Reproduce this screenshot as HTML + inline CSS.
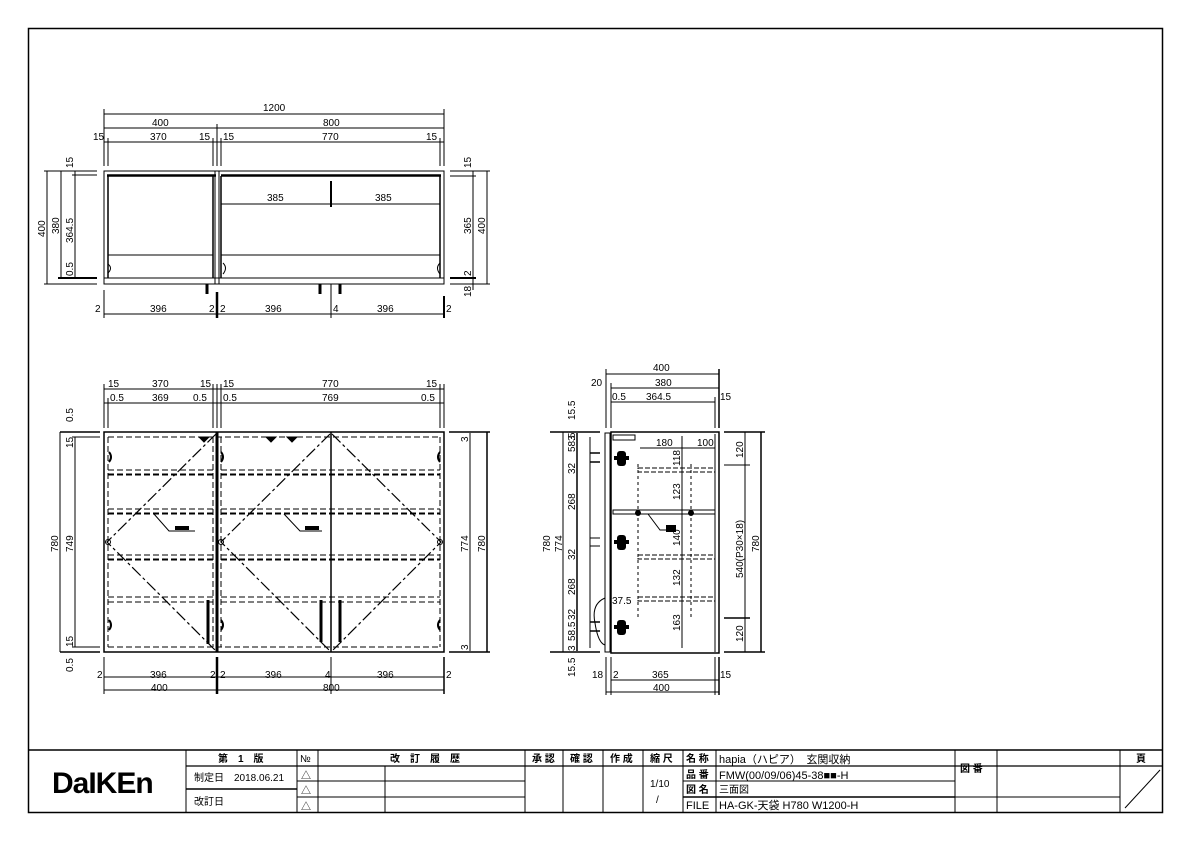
<!DOCTYPE html>
<html><head><meta charset="utf-8"><style>
html,body{margin:0;padding:0;background:#fff}
svg{display:block}
text{font-family:"Liberation Sans","Noto Sans CJK JP",sans-serif;font-size:10px;fill:#000}
.t{font-size:9.5px}
.b{font-weight:bold}
</style></head><body>
<svg width="1191" height="842" viewBox="0 0 1191 842" xmlns="http://www.w3.org/2000/svg">
<g fill="none" stroke="#000" stroke-width="1">
<!-- border -->
<rect x="28.5" y="28.5" width="1134" height="784" stroke-width="1.5"/>

<!-- ================ PLAN VIEW ================ -->
<line x1="104" y1="114" x2="444" y2="114"/>
<line x1="104" y1="128" x2="444" y2="128"/>
<line x1="104" y1="142" x2="444" y2="142"/>
<line x1="104" y1="109" x2="104" y2="166"/>
<line x1="444" y1="109" x2="444" y2="166"/>
<line x1="217" y1="124" x2="217" y2="166"/>
<line x1="108" y1="138" x2="108" y2="166"/>
<line x1="213" y1="138" x2="213" y2="166"/>
<line x1="221" y1="138" x2="221" y2="166"/>
<line x1="440" y1="138" x2="440" y2="166"/>
<rect x="104" y="171" width="340" height="113"/>
<line x1="104" y1="278" x2="444" y2="278"/>
<line x1="107" y1="175.5" x2="216" y2="175.5" stroke-width="2.5"/>
<line x1="221" y1="175.5" x2="441" y2="175.5" stroke-width="2.5"/>
<line x1="108" y1="176" x2="108" y2="278" stroke-width="1.5"/>
<line x1="213" y1="176" x2="213" y2="278" stroke-width="1.5"/>
<line x1="221" y1="176" x2="221" y2="278" stroke-width="1.5"/>
<line x1="440" y1="176" x2="440" y2="278" stroke-width="1.5"/>
<line x1="215" y1="171" x2="215" y2="284"/>
<line x1="219" y1="171" x2="219" y2="284"/>
<line x1="108" y1="255" x2="213" y2="255"/>
<line x1="221" y1="255" x2="440" y2="255"/>
<line x1="221" y1="204" x2="440" y2="204"/>
<line x1="331" y1="181" x2="331" y2="207" stroke-width="2"/>
<path d="M108 264 q5 4 0 9 M223 263 q5 5 0 11 M440 263 q-5 5 0 11"/>
<line x1="207" y1="284" x2="207" y2="294" stroke-width="3"/>
<line x1="320" y1="284" x2="320" y2="294" stroke-width="3"/>
<line x1="340" y1="284" x2="340" y2="294" stroke-width="3"/>
<line x1="217" y1="292" x2="217" y2="318" stroke-width="2.5"/>
<line x1="444" y1="296" x2="444" y2="318" stroke-width="2"/>
<line x1="104" y1="290" x2="104" y2="318"/>
<line x1="331" y1="284" x2="331" y2="318"/>
<line x1="104" y1="314" x2="444" y2="314"/>
<!-- left dims plan -->
<line x1="47" y1="171" x2="47" y2="284"/>
<line x1="61" y1="171" x2="61" y2="278"/>
<line x1="75" y1="171" x2="75" y2="278"/>
<line x1="44" y1="171" x2="97" y2="171"/>
<line x1="44" y1="284" x2="97" y2="284"/>
<line x1="58" y1="278" x2="97" y2="278" stroke-width="2"/>
<line x1="72" y1="175" x2="97" y2="175"/>
<!-- right dims plan -->
<line x1="473" y1="171" x2="473" y2="290"/>
<line x1="487" y1="171" x2="487" y2="284"/>
<line x1="450" y1="171" x2="490" y2="171"/>
<line x1="450" y1="176" x2="476" y2="176"/>
<line x1="450" y1="278" x2="476" y2="278" stroke-width="2"/>
<line x1="450" y1="284" x2="490" y2="284"/>

<!-- ================ FRONT VIEW ================ -->
<line x1="104" y1="389" x2="444" y2="389"/>
<line x1="104" y1="403" x2="444" y2="403"/>
<line x1="104" y1="384" x2="104" y2="428"/>
<line x1="108" y1="398" x2="108" y2="428"/>
<line x1="213" y1="384" x2="213" y2="428"/>
<line x1="217" y1="384" x2="217" y2="428"/>
<line x1="221" y1="384" x2="221" y2="428"/>
<line x1="440" y1="384" x2="440" y2="428"/>
<line x1="444" y1="384" x2="444" y2="428"/>
<rect x="104" y="432" width="340" height="220" stroke-width="1.5"/>
<line x1="60" y1="432" x2="100" y2="432" stroke-width="1.5"/>
<line x1="60" y1="652" x2="100" y2="652" stroke-width="1.5"/>
<line x1="72" y1="437" x2="100" y2="437"/>
<line x1="72" y1="647" x2="100" y2="647"/>
<line x1="60" y1="432" x2="60" y2="652"/>
<line x1="75" y1="437" x2="75" y2="647"/>
<line x1="449" y1="432" x2="490" y2="432" stroke-width="1.5"/>
<line x1="449" y1="652" x2="490" y2="652" stroke-width="1.5"/>
<line x1="470" y1="433" x2="470" y2="651"/>
<line x1="487" y1="432" x2="487" y2="652" stroke-width="1.5"/>
<line x1="217" y1="432" x2="217" y2="652" stroke-width="3"/>
<line x1="331" y1="432" x2="331" y2="652" stroke-width="1.5"/>
<g stroke-dasharray="6,3">
<line x1="108" y1="437" x2="440" y2="437"/>
<line x1="108" y1="647" x2="440" y2="647"/>
<line x1="108" y1="437" x2="108" y2="647"/>
<line x1="213" y1="437" x2="213" y2="647"/>
<line x1="221" y1="437" x2="221" y2="647"/>
<line x1="440" y1="437" x2="440" y2="647"/>
<line x1="108" y1="470" x2="213" y2="470"/><line x1="221" y1="470" x2="440" y2="470"/>
<line x1="108" y1="474.5" x2="213" y2="474.5" stroke-width="2"/><line x1="221" y1="474.5" x2="440" y2="474.5" stroke-width="2"/>
<line x1="108" y1="509" x2="213" y2="509"/><line x1="221" y1="509" x2="440" y2="509"/>
<line x1="108" y1="513.5" x2="213" y2="513.5" stroke-width="2"/><line x1="221" y1="513.5" x2="440" y2="513.5" stroke-width="2"/>
<line x1="108" y1="555" x2="213" y2="555"/><line x1="221" y1="555" x2="440" y2="555"/>
<line x1="108" y1="559.5" x2="213" y2="559.5" stroke-width="2"/><line x1="221" y1="559.5" x2="440" y2="559.5" stroke-width="2"/>
<line x1="108" y1="597" x2="213" y2="597"/><line x1="221" y1="597" x2="440" y2="597"/>
<line x1="108" y1="602" x2="213" y2="602"/><line x1="221" y1="602" x2="440" y2="602"/>
</g>
<g stroke-dasharray="12,3,3,3" stroke-width="1.2">
<path d="M216 434 L107 542 L216 651"/>
<path d="M330 434 L221 542 L330 651"/>
<path d="M332 434 L441 542 L332 651"/>
</g>
<path d="M199 437 l10 0 l-5 5z M266 437 l10 0 l-5 5z M287 437 l10 0 l-5 5z" fill="#000"/>
<line x1="208" y1="600" x2="208" y2="644" stroke-width="3"/>
<line x1="321" y1="600" x2="321" y2="642" stroke-width="3"/>
<line x1="340" y1="600" x2="340" y2="642" stroke-width="3"/>
<path d="M109 452 q4 5 0 10 M221 452 q4 5 0 10 M440 452 q-4 5 0 10 M109 620 q4 5 0 10 M221 620 q4 5 0 10 M440 620 q-4 5 0 10" stroke-width="2"/>
<circle cx="108" cy="542" r="2.5"/><circle cx="221" cy="542" r="2.5"/><circle cx="440" cy="542" r="2.5"/>
<path d="M154 514 L169 531 L195 531"/>
<path d="M284 514 L300 531 L322 531"/>
<rect x="175" y="526" width="14" height="4" fill="#000" stroke="none"/>
<rect x="305" y="526" width="14" height="4" fill="#000" stroke="none"/>
<!-- front bottom dims -->
<line x1="104" y1="657" x2="104" y2="694"/>
<line x1="217" y1="657" x2="217" y2="694" stroke-width="2.5"/>
<line x1="331" y1="657" x2="331" y2="694"/>
<line x1="444" y1="657" x2="444" y2="694" stroke-width="1.5"/>
<line x1="104" y1="677" x2="444" y2="677"/>
<line x1="104" y1="690" x2="444" y2="690"/>

<!-- ================ SIDE VIEW ================ -->
<line x1="606" y1="374" x2="719" y2="374"/>
<line x1="611" y1="388" x2="719" y2="388"/>
<line x1="611" y1="402" x2="715" y2="402"/>
<line x1="606" y1="369" x2="606" y2="428"/>
<line x1="611" y1="383" x2="611" y2="428"/>
<line x1="715" y1="397" x2="715" y2="428"/>
<line x1="719" y1="369" x2="719" y2="428" stroke-width="1.5"/>
<rect x="605" y="433" width="5" height="219"/>
<rect x="611" y="432" width="108" height="221" stroke-width="1.5"/>
<line x1="715" y1="434" x2="715" y2="652"/>
<rect x="613" y="435" width="22" height="5"/>
<line x1="640" y1="448" x2="715" y2="448"/>
<line x1="682" y1="436" x2="682" y2="648"/>
<rect x="613" y="510" width="102" height="4"/>
<g stroke-dasharray="5,2">
<rect x="638" y="468" width="77" height="4"/>
<rect x="638" y="555" width="77" height="4"/>
<rect x="638" y="597" width="77" height="4"/>
</g>
<g stroke-dasharray="3,3">
<line x1="638" y1="464" x2="638" y2="620"/>
<line x1="691" y1="464" x2="691" y2="620"/>
</g>
<circle cx="638" cy="513" r="2.5" fill="#000"/><circle cx="691" cy="513" r="2.5" fill="#000"/>
<path d="M648 514 L660 530 L672 530"/>
<rect x="666" y="525" width="10" height="7" fill="#000" stroke="none"/>
<g fill="#000" stroke="none">
<rect x="617" y="451" width="9" height="15" rx="3"/><rect x="614" y="456" width="15" height="4"/>
<rect x="617" y="535" width="9" height="15" rx="3"/><rect x="614" y="540" width="15" height="4"/>
<rect x="617" y="620" width="9" height="15" rx="3"/><rect x="614" y="625" width="15" height="4"/>
</g>
<path d="M605 598 q-14 6 -10 25 q3 20 10 22"/>
<line x1="550" y1="432" x2="600" y2="432" stroke-width="1.5"/>
<line x1="550" y1="652" x2="600" y2="652" stroke-width="1.5"/>
<line x1="563" y1="432" x2="563" y2="652"/>
<line x1="577" y1="433" x2="577" y2="651" stroke-width="1.5"/>
<line x1="590" y1="437" x2="590" y2="648"/>
<line x1="590" y1="453" x2="600" y2="453" stroke-width="1.5"/>
<line x1="590" y1="462" x2="600" y2="462" stroke-width="1.5"/>
<line x1="590" y1="538" x2="600" y2="538"/>
<line x1="590" y1="546" x2="600" y2="546"/>
<line x1="590" y1="622" x2="600" y2="622" stroke-width="1.5"/>
<line x1="590" y1="631" x2="600" y2="631" stroke-width="1.5"/>
<line x1="724" y1="432" x2="765" y2="432" stroke-width="1.5"/>
<line x1="724" y1="652" x2="765" y2="652" stroke-width="1.5"/>
<line x1="724" y1="465" x2="750" y2="465"/>
<line x1="724" y1="618" x2="750" y2="618" stroke-width="1.5"/>
<line x1="745" y1="432" x2="745" y2="652"/>
<line x1="761" y1="432" x2="761" y2="652" stroke-width="1.5"/>
<line x1="606" y1="657" x2="606" y2="695"/>
<line x1="611" y1="657" x2="611" y2="695"/>
<line x1="715" y1="657" x2="715" y2="695"/>
<line x1="719" y1="657" x2="719" y2="695" stroke-width="1.5"/>
<line x1="611" y1="680" x2="719" y2="680"/>
<line x1="606" y1="692" x2="719" y2="692"/>

<!-- ================ TITLE BLOCK ================ -->
<line x1="28" y1="750" x2="1163" y2="750" stroke-width="1.5"/>
<line x1="186" y1="750" x2="186" y2="813"/>
<line x1="297" y1="750" x2="297" y2="813"/>
<line x1="318" y1="750" x2="318" y2="813"/>
<line x1="385" y1="766" x2="385" y2="813"/>
<line x1="525" y1="750" x2="525" y2="813"/>
<line x1="563" y1="750" x2="563" y2="813"/>
<line x1="603" y1="750" x2="603" y2="813"/>
<line x1="643" y1="750" x2="643" y2="813"/>
<line x1="683" y1="750" x2="683" y2="813"/>
<line x1="716" y1="750" x2="716" y2="813"/>
<line x1="955" y1="750" x2="955" y2="813"/>
<line x1="997" y1="750" x2="997" y2="813"/>
<line x1="1120" y1="750" x2="1120" y2="813"/>
<line x1="186" y1="766" x2="1163" y2="766" stroke-width="1.2"/>
<line x1="186" y1="789" x2="297" y2="789" stroke-width="1.5"/>
<line x1="297" y1="781" x2="525" y2="781"/>
<line x1="297" y1="797" x2="525" y2="797"/>
<line x1="683" y1="781" x2="955" y2="781"/>
<line x1="683" y1="797" x2="955" y2="797" stroke-width="1.5"/>
<line x1="955" y1="797" x2="1120" y2="797"/>
<line x1="1125" y1="808" x2="1160" y2="770"/>
</g>

<!-- ================ TEXT ================ -->
<g class="t">
<text x="263" y="111">1200</text>
<text x="152" y="126">400</text>
<text x="323" y="126">800</text>
<text x="93" y="140">15</text><text x="150" y="140">370</text><text x="199" y="140">15</text><text x="223" y="140">15</text><text x="322" y="140">770</text><text x="426" y="140">15</text>
<text x="267" y="201">385</text><text x="375" y="201">385</text>
<text x="95" y="312">2</text><text x="150" y="312">396</text><text x="209" y="312">2</text><text x="220" y="312">2</text><text x="265" y="312">396</text><text x="333" y="312">4</text><text x="377" y="312">396</text><text x="446" y="312">2</text>
<text transform="translate(45,237) rotate(-90)">400</text>
<text transform="translate(59,234) rotate(-90)">380</text>
<text transform="translate(73,243) rotate(-90)">364.5</text>
<text transform="translate(73,276) rotate(-90)">0.5</text>
<text transform="translate(73,168) rotate(-90)">15</text>
<text transform="translate(471,168) rotate(-90)">15</text>
<text transform="translate(471,234) rotate(-90)">365</text>
<text transform="translate(485,234) rotate(-90)">400</text>
<text transform="translate(471,276) rotate(-90)">2</text>
<text transform="translate(471,297) rotate(-90)">18</text>

<text x="108" y="387">15</text><text x="152" y="387">370</text><text x="200" y="387">15</text><text x="223" y="387">15</text><text x="322" y="387">770</text><text x="426" y="387">15</text>
<text x="110" y="401">0.5</text><text x="152" y="401">369</text><text x="193" y="401">0.5</text><text x="223" y="401">0.5</text><text x="322" y="401">769</text><text x="421" y="401">0.5</text>
<text transform="translate(73,448) rotate(-90)">15</text>
<text transform="translate(73,422) rotate(-90)">0.5</text>
<text transform="translate(58,552) rotate(-90)">780</text>
<text transform="translate(73,552) rotate(-90)">749</text>
<text transform="translate(73,647) rotate(-90)">15</text>
<text transform="translate(73,672) rotate(-90)">0.5</text>
<text transform="translate(468,442) rotate(-90)">3</text>
<text transform="translate(468,552) rotate(-90)">774</text>
<text transform="translate(485,552) rotate(-90)">780</text>
<text transform="translate(468,650) rotate(-90)">3</text>
<text x="97" y="678">2</text><text x="150" y="678">396</text><text x="210" y="678">2</text><text x="220" y="678">2</text><text x="265" y="678">396</text><text x="325" y="678">4</text><text x="377" y="678">396</text><text x="446" y="678">2</text>
<text x="151" y="691">400</text><text x="323" y="691">800</text>

<text x="653" y="371">400</text>
<text x="591" y="386">20</text><text x="655" y="386">380</text>
<text x="612" y="400">0.5</text><text x="646" y="400">364.5</text><text x="720" y="400">15</text>
<text x="656" y="446">180</text><text x="697" y="446">100</text>
<text transform="translate(680,466) rotate(-90)">118</text>
<text transform="translate(680,500) rotate(-90)">123</text>
<text transform="translate(680,546) rotate(-90)">140</text>
<text transform="translate(680,586) rotate(-90)">132</text>
<text transform="translate(680,631) rotate(-90)">163</text>
<text x="612" y="604">37.5</text>
<text transform="translate(550,552) rotate(-90)">780</text>
<text transform="translate(562,552) rotate(-90)">774</text>
<text transform="translate(575,441) rotate(-90)">3</text>
<text transform="translate(575,420) rotate(-90)">15.5</text>
<text transform="translate(575,452) rotate(-90)">58.5</text>
<text transform="translate(575,474) rotate(-90)">32</text>
<text transform="translate(575,510) rotate(-90)">268</text>
<text transform="translate(575,560) rotate(-90)">32</text>
<text transform="translate(575,595) rotate(-90)">268</text>
<text transform="translate(575,620) rotate(-90)">32</text>
<text transform="translate(575,641) rotate(-90)">58.5</text>
<text transform="translate(575,651) rotate(-90)">3</text>
<text transform="translate(575,677) rotate(-90)">15.5</text>
<text transform="translate(743,458) rotate(-90)">120</text>
<text transform="translate(743,578) rotate(-90)">540(P30×18)</text>
<text transform="translate(759,552) rotate(-90)">780</text>
<text transform="translate(743,642) rotate(-90)">120</text>
<text x="592" y="678">18</text><text x="613" y="678">2</text><text x="652" y="678">365</text><text x="720" y="678">15</text>
<text x="653" y="691">400</text>
</g>

<text x="52" y="793" style="font-size:30px;font-weight:bold;letter-spacing:-1px">DaIKEn</text>
<g class="t">
<text x="218" y="762" class="b">第　1　版</text>
<text x="300" y="762">№</text>
<text x="390" y="762" class="b">改　訂　履　歴</text>
<text x="532" y="762" class="b">承 認</text><text x="570" y="762" class="b">確 認</text><text x="610" y="762" class="b">作 成</text><text x="650" y="762" class="b">縮 尺</text>
<text x="686" y="762" class="b">名 称</text>
<text x="719" y="763" style="font-size:11px">hapia（ハピア）　玄関収納</text>
<text x="194" y="781">制定日　2018.06.21</text>
<text x="194" y="805">改訂日</text>
<text x="301" y="779">△</text><text x="301" y="794">△</text><text x="301" y="810">△</text>
<text x="650" y="787">1/10</text>
<text x="656" y="803">/</text>
<text x="686" y="778" class="b">品 番</text>
<text x="719" y="779" style="font-size:11px">FMW(00/09/06)45-38■■-H</text>
<text x="686" y="793" class="b">図 名</text>
<text x="719" y="793">三面図</text>
<text x="686" y="809" style="font-size:11px">FILE</text>
<text x="719" y="809" style="font-size:11px">HA-GK-天袋 H780 W1200-H</text>
<text x="960" y="772" class="b">図 番</text>
<text x="1136" y="762" class="b">頁</text>
</g>
</svg>
</body></html>
